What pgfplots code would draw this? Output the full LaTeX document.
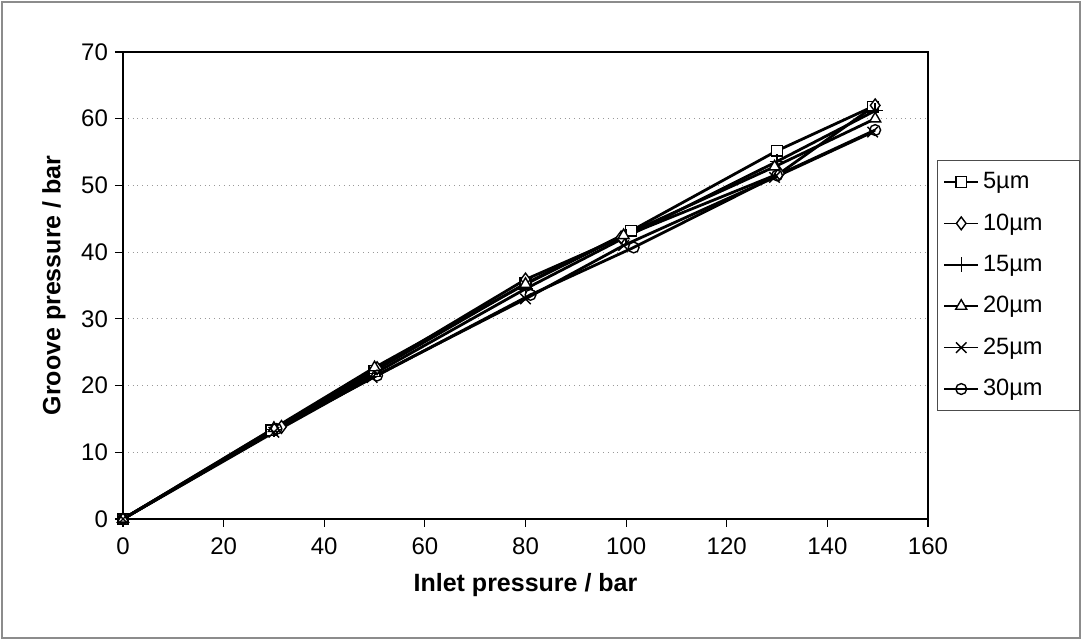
\documentclass[border=0pt]{standalone}
\usepackage{pgfplots}
\pgfplotsset{compat=1.18}
\usepackage{fontspec}
\setmainfont{Liberation Sans}
\newcommand{\legtxt}[1]{\makebox[43pt][l]{#1}}
\begin{document}
\begin{tikzpicture}
\useasboundingbox (0,0) rectangle (541pt,320pt);
\draw[black!45, line width=0.6pt] (1pt,1pt) rectangle (540pt,319pt);
\begin{axis}[
  at={(61.5pt,60.5pt)}, anchor=south west,
  scale only axis, width=402.5pt, height=233.5pt,
  xmin=0, xmax=160, ymin=0, ymax=70,
  xtick={0,20,...,160}, ytick={0,10,...,70},
  tick align=outside, major tick length=4pt,
  xtick pos=bottom, ytick pos=left,
  ymajorgrids, grid style={black!40, dotted, line width=0.5pt},
  axis line style={black, line width=0.6pt},
  tick style={black, line width=0.6pt},
  /pgf/number format/assume math mode=true,
  ticklabel style={font=\fontsize{12}{14}\selectfont},
  xticklabel style={yshift=-2pt},
  xlabel={\textbf{Inlet pressure / bar}},
  ylabel={\textbf{Groove pressure / bar}},
  label style={font=\fontsize{12.5}{14}\selectfont},
  xlabel style={yshift=-2.5pt},
  ylabel style={yshift=1pt},
  legend style={at={(1.011,0.769)}, anchor=north west, draw=black!70, line width=0.5pt,
    font=\fontsize{11.8}{13}\selectfont, row sep=7pt, inner xsep=3pt, inner ysep=4pt},
  legend cell align=left,
  legend image code/.code={\draw[mark repeat=2,mark phase=2] plot coordinates {(0cm,0cm) (0.3cm,0cm) (0.6cm,0cm)};},
  legend image post style={line width=0.8pt},
  every axis plot/.append style={black, line width=1.4pt, mark options={solid, fill=white, line width=0.7pt}},
]
\addplot[mark=square*, mark size=2.7pt] coordinates {(0,0) (29.5,13.3) (50,22.2) (80,35.3) (101,43.2) (130,55.2) (149,61.8)};
\addlegendentry{\legtxt{5µm}}
\addplot[mark=diamond*, mark size=3.2pt] coordinates {(0,0) (31.5,13.8) (50.5,22.6) (80,35.9) (99,42.2) (130.5,51.8) (149.5,62)};
\addlegendentry{\legtxt{10µm}}
\addplot[mark=+, mark size=3.7pt] coordinates {(0,0) (30,13.4) (50,21.8) (80,34.5) (100,42.3) (130,53.6) (149.5,61.2)};
\addlegendentry{\legtxt{15µm}}
\addplot[mark=triangle*, mark size=3.2pt] coordinates {(0,0) (30,13.6) (50,22.7) (80,35.2) (99.5,42.5) (129.5,52.8) (149.5,60)};
\addlegendentry{\legtxt{20µm}}
\addplot[mark=x, mark size=3.7pt] coordinates {(0,0) (30,13) (49.5,21.2) (80,33) (99.5,41) (129.5,51.2) (149,58)};
\addlegendentry{\legtxt{25µm}}
\addplot[mark=o, mark size=2.7pt] coordinates {(0,0) (30.5,13.5) (50.5,21.5) (81,33.6) (101.5,40.7) (130,51.5) (149.5,58.3)};
\addlegendentry{\legtxt{30µm}}
\end{axis}
\end{tikzpicture}
\end{document}
